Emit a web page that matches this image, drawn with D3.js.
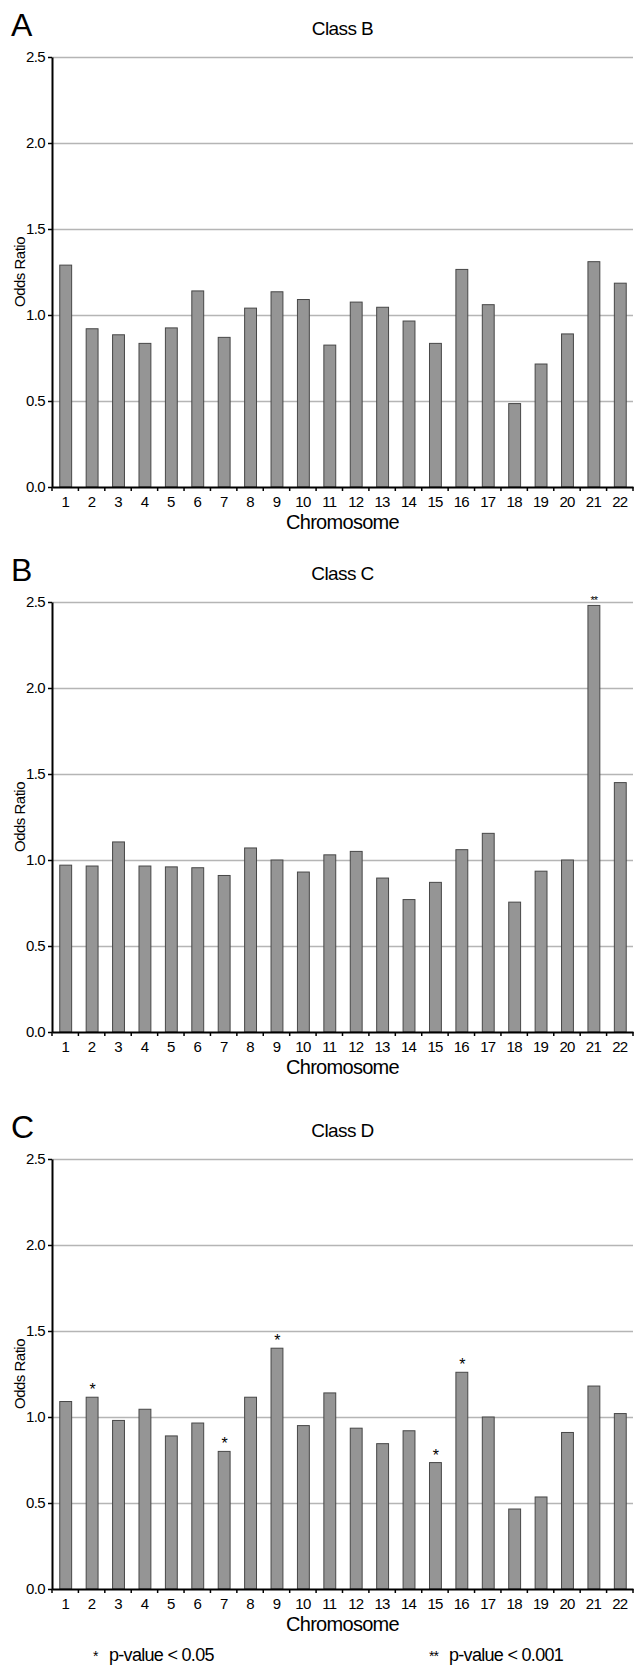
<!DOCTYPE html>
<html>
<head>
<meta charset="utf-8">
<script src="https://cdn.jsdelivr.net/npm/d3@7"></script>
<style>
  body { margin: 0; background: #fff; }
  svg text { font-family: "Liberation Sans", Arial, sans-serif; fill: #000; }
  .grid line { stroke: #b5b5b5; stroke-width: 1.5px; }
  .grid .domain { display: none; }
  .axis .domain { stroke: #000; stroke-width: 2px; }
  .axis line { stroke: #000; stroke-width: 1.5px; }
  .bar { fill: #959595; stroke: #474747; stroke-width: 1px; }
</style>
</head>
<body>
<div id="chart"></div>
<script>
// chromosomes on the x axis
const chromosomes = d3.range(1, 23).map(String);

// odds ratio per chromosome for each class
const classB = [1.29, 0.92, 0.885, 0.835, 0.925, 1.14, 0.87, 1.04, 1.135, 1.09, 0.825,
                1.075, 1.045, 0.965, 0.835, 1.265, 1.06, 0.485, 0.715, 0.89, 1.31, 1.185];
const classC = [0.97, 0.965, 1.105, 0.965, 0.96, 0.955, 0.91, 1.07, 1.0, 0.93, 1.03,
                1.05, 0.895, 0.77, 0.87, 1.06, 1.155, 0.755, 0.935, 1.0, 2.48, 1.45];
const classD = [1.09, 1.115, 0.98, 1.045, 0.89, 0.965, 0.80, 1.115, 1.40, 0.95, 1.14,
                0.935, 0.845, 0.92, 0.735, 1.26, 1.0, 0.465, 0.535, 0.91, 1.18, 1.02];

// significance marks (chromosome -> label)
const sigB = {};
const sigC = { '21': '**' };
const sigD = { '2': '*', '7': '*', '9': '*', '15': '*', '16': '*' };

const yTicks = [0, 0.5, 1.0, 1.5, 2.0, 2.5];

const panels = [
  { letter: 'A', title: 'Class B', values: classB, sig: sigB, top: 57 },
  { letter: 'B', title: 'Class C', values: classC, sig: sigC, top: 602 },
  { letter: 'C', title: 'Class D', values: classD, sig: sigD, top: 1159 }
];

const W = 635, H = 1667;
const left = 52, right = 633, plotH = 430;

const svg = d3.select('#chart').append('svg')
  .attr('width', W).attr('height', H);

const x = d3.scaleBand()
  .domain(chromosomes)
  .range([left, right])
  .padding(0);
const barW = x.bandwidth() * 0.45;

panels.forEach(p => {
  const g = svg.append('g');
  const y0 = p.top + plotH;
  const y = d3.scaleLinear().domain([0, 2.5]).range([y0, p.top]);

  // horizontal gridlines
  g.append('g')
    .attr('class', 'grid')
    .attr('transform', `translate(${left},0)`)
    .call(d3.axisLeft(y).tickValues(yTicks.slice(1)).tickSize(-(right - left)).tickFormat(''));

  // bars
  g.selectAll('.bar')
    .data(p.values)
    .join('rect')
      .attr('class', 'bar')
      .attr('x', (d, i) => x(chromosomes[i]) + (x.bandwidth() - barW) / 2 + 0.5)
      .attr('width', barW)
      .attr('y', d => y(d))
      .attr('height', d => y0 - y(d));

  // significance stars
  g.selectAll('.sig')
    .data(chromosomes.filter(c => p.sig[c]))
    .join('text')
      .attr('class', 'sig')
      .attr('x', c => x(c) + x.bandwidth() / 2 + 0.5)
      .attr('y', c => {
        const v = p.values[chromosomes.indexOf(c)];
        return y(v) - (p.sig[c] === '**' ? 1 : 2);
      })
      .attr('text-anchor', 'middle')
      .style('font-size', c => p.sig[c] === '**' ? '11px' : '16px')
      .style('letter-spacing', '-1px')
      .text(c => p.sig[c]);

  // y axis
  const yAxis = g.append('g')
    .attr('class', 'axis')
    .attr('transform', `translate(${left},0)`)
    .call(d3.axisLeft(y).tickValues(yTicks).tickFormat(d3.format('.1f')).tickSize(4).tickSizeOuter(0).tickPadding(3));
  yAxis.selectAll('text').style('font-size', '15px').style('letter-spacing', '-0.6px');

  // x axis, labels centred on bars, ticks between bars
  const xAxis = g.append('g')
    .attr('class', 'axis')
    .attr('transform', `translate(0,${y0})`)
    .call(d3.axisBottom(x).tickSize(0).tickPadding(9));
  xAxis.selectAll('text').style('font-size', '15px').style('letter-spacing', '-0.8px');
  xAxis.selectAll('.bound')
    .data(chromosomes.map(c => x(c)).concat([right]))
    .join('line')
      .attr('class', 'bound')
      .attr('x1', d => d).attr('x2', d => d)
      .attr('y1', 0).attr('y2', 4);

  // axis titles
  g.append('text')
    .attr('x', (left + right) / 2)
    .attr('y', y0 + 42)
    .attr('text-anchor', 'middle')
    .style('font-size', '20px')
    .style('letter-spacing', '-0.7px')
    .text('Chromosome');

  g.append('text')
    .attr('transform', `translate(25,${p.top + plotH / 2}) rotate(-90)`)
    .attr('text-anchor', 'middle')
    .style('font-size', '15px')
    .style('letter-spacing', '-0.5px')
    .text('Odds Ratio');

  // panel title and letter
  g.append('text')
    .attr('x', (left + right) / 2)
    .attr('y', p.top - 22)
    .attr('text-anchor', 'middle')
    .style('font-size', '19px')
    .style('letter-spacing', '-0.6px')
    .text(p.title);

  g.append('text')
    .attr('x', 11)
    .attr('y', p.top - 21)
    .style('font-size', '32px')
    .text(p.letter);
});

// legend
const legend = svg.append('g');
legend.append('text').attr('x', 93).attr('y', 1661).style('font-size', '14px').text('*');
legend.append('text').attr('x', 109).attr('y', 1661)
  .style('font-size', '18px').style('letter-spacing', '-0.7px').text('p-value < 0.05');
legend.append('text').attr('x', 429).attr('y', 1661).style('font-size', '14px')
  .style('letter-spacing', '-1px').text('**');
legend.append('text').attr('x', 449).attr('y', 1661)
  .style('font-size', '18px').style('letter-spacing', '-0.7px').text('p-value < 0.001');
</script>
</body>
</html>
